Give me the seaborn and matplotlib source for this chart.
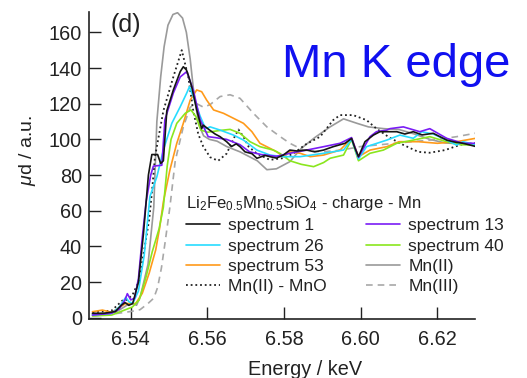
import numpy as np
import pandas as pd
import matplotlib
matplotlib.use("Agg")
import matplotlib.pyplot as plt
import seaborn as sns

# ---------------- data ----------------
e_s1 = [6.530, 6.533, 6.536, 6.5375, 6.5385, 6.5395, 6.5405, 6.542, 6.5433, 6.5446, 6.5455, 6.547,
        6.5478, 6.5485, 6.5494, 6.5511, 6.5529, 6.5537, 6.5545, 6.555, 6.5559, 6.5572, 6.5585, 6.5589,
        6.5607, 6.562, 6.5633, 6.565, 6.5663, 6.5675, 6.5685, 6.5698, 6.5716, 6.5729, 6.575, 6.5763,
        6.578, 6.5798, 6.5815, 6.5833, 6.5859, 6.588, 6.5903, 6.5928, 6.5959, 6.5976, 6.5985, 6.5994,
        6.6011, 6.6033, 6.605, 6.6068, 6.6094, 6.6115, 6.6137, 6.616, 6.6189, 6.6224, 6.6245, 6.6267, 6.630]
mu_s1 = [2.5, 2.5, 3.5, 7, 8.5, 7, 8, 20, 47, 80, 91.5, 91.5,
         86.5, 88, 116, 127.7, 138, 140.7, 139, 136, 129.5, 116.5, 106, 108,
         105, 103, 101.5, 98.7, 96, 97.5, 95.9, 93, 92, 89.4, 91, 90.3,
         89.5, 91.2, 94, 93.5, 94, 93, 94, 95.9, 97.8, 100.5, 95, 90.3,
         98.7, 102.4, 104.3, 104.3, 104.3, 103, 104.3, 102.5, 103.4, 99.6, 98.5, 97.8, 96]

e_s13 = [6.530, 6.535, 6.537, 6.5385, 6.5391, 6.540, 6.541, 6.542, 6.543, 6.544, 6.5452, 6.5459,
         6.5481, 6.5489, 6.5511, 6.5529, 6.5546, 6.5563, 6.5581, 6.5602, 6.562, 6.565, 6.5685, 6.571,
         6.574, 6.578, 6.5815, 6.5859, 6.5903, 6.5946, 6.5976, 6.5994, 6.6024, 6.6041, 6.6068, 6.6076,
         6.6111, 6.6154, 6.618, 6.6224, 6.6267, 6.630]
mu_s13 = [1.5, 2.5, 5, 10, 13.5, 10, 11, 22, 45, 65, 80, 85,
          85.5, 111, 126, 135, 138, 127.7, 111, 101.5, 101, 100, 97, 93,
          91.5, 90.5, 92.2, 94, 95.9, 97.8, 101, 90, 101.5, 104.3, 105.2, 106,
          107, 104.3, 106, 100.6, 97.8, 97.8]

e_s26 = [6.530, 6.535, 6.537, 6.5387, 6.5395, 6.5405, 6.542, 6.5435, 6.545, 6.5468, 6.5485, 6.5507,
         6.5529, 6.5546, 6.5553, 6.5563, 6.5581, 6.5595, 6.5607, 6.5633, 6.5668, 6.5694, 6.5729, 6.5763,
         6.5798, 6.5842, 6.5903, 6.5955, 6.5976, 6.5994, 6.6015, 6.6068, 6.6102, 6.6137, 6.6159, 6.6189,
         6.6224, 6.625, 6.6267, 6.630]
mu_s26 = [1.5, 2.5, 6, 11.5, 9, 8, 15, 35, 68, 79, 94, 109,
          118.3, 126, 129.5, 124, 113, 106, 107, 105.2, 102.4, 99.6, 94, 91.2,
          90.3, 90.3, 92.2, 94, 100, 89, 95.9, 99.6, 102.4, 100.6, 104.3, 103,
          99.6, 96.8, 98.7, 97]

e_s40 = [6.530, 6.535, 6.538, 6.5404, 6.5422, 6.544, 6.5456, 6.5474, 6.5485, 6.5495, 6.5505, 6.552,
         6.5542, 6.5557, 6.557, 6.5583, 6.560, 6.5633, 6.5659, 6.5685, 6.5711, 6.5737, 6.5772, 6.579,
         6.5815, 6.5845, 6.5877, 6.5903, 6.592, 6.5955, 6.5976, 6.5994, 6.6024, 6.6059, 6.6094, 6.6137,
         6.618, 6.6224, 6.626, 6.630]
mu_s40 = [1, 1.5, 4, 6, 10, 23, 37, 50, 62, 85, 100, 109,
          114.6, 116.5, 112.7, 105.2, 104, 105, 105.6, 103.4, 98.7, 95.9, 94, 92,
          88, 86, 84.7, 87, 89.4, 91.2, 100, 88, 92.2, 94, 97.8, 99.6,
          101.5, 98.7, 97, 96.8]

e_s53 = [6.530, 6.5326, 6.535, 6.5387, 6.5413, 6.543, 6.5448, 6.5465, 6.5475, 6.5485, 6.5502, 6.552,
         6.5537, 6.5555, 6.5572, 6.5585, 6.5598, 6.5616, 6.5642, 6.5668, 6.5694, 6.5716, 6.5737, 6.5763,
         6.5781, 6.5798, 6.5815, 6.5842, 6.5868, 6.5903, 6.5946, 6.5976, 6.5994, 6.6024, 6.6068, 6.610,
         6.615, 6.620, 6.625, 6.630]
mu_s53 = [3.4, 4.3, 3, 8, 8, 13.7, 25, 38, 50, 65, 82.8, 97.8,
          109, 122, 127.7, 126.7, 122, 116.5, 114.6, 111.8, 109, 104.3, 97.8, 95,
          93, 90.3, 93, 92.2, 90.3, 91.2, 94, 100.6, 90.3, 94, 95.9, 98.7,
          98.7, 97.8, 98.7, 100.6]

e_mn2 = [6.530, 6.536, 6.539, 6.5405, 6.5415, 6.5425, 6.5445, 6.546, 6.5468, 6.5478, 6.5487, 6.5497,
         6.551, 6.5522, 6.5535, 6.5545, 6.5555, 6.5565, 6.5578, 6.559, 6.5605, 6.5625, 6.565, 6.5685,
         6.573, 6.5755, 6.578, 6.5815, 6.5845, 6.588, 6.592, 6.5955, 6.599, 6.602, 6.606, 6.610, 6.614,
         6.618, 6.622, 6.626, 6.630]
mu_mn2 = [2, 3, 7, 8, 7, 12, 30, 62, 110, 135, 152, 164,
          170, 171, 168, 160, 145, 125, 108, 102, 100, 99, 96, 93,
          88, 83, 83.5, 87.5, 95, 101, 107, 111.5, 109, 107, 106, 105.5, 103,
          100, 98, 97.5, 97.5]

e_mno = [6.530, 6.535, 6.537, 6.538, 6.539, 6.5405, 6.5422, 6.5435, 6.5448, 6.5455, 6.5463, 6.5485,
         6.5511, 6.5533, 6.555, 6.5563, 6.5576, 6.5589, 6.5607, 6.5628, 6.565, 6.5672, 6.5681, 6.5694,
         6.5707, 6.5729, 6.5763, 6.5798, 6.5824, 6.5855, 6.5894, 6.5928, 6.5946, 6.598, 6.6015, 6.6041,
         6.6075, 6.611, 6.615, 6.618, 6.622, 6.626, 6.630]
mu_mno = [3, 4, 8, 10, 10, 13, 21, 38, 55, 70, 90, 116,
          135, 150, 135, 116, 103, 96, 90, 88, 92, 102, 105.5, 101.5,
          96, 92, 88.5, 89.5, 92, 97, 101.5, 110.8, 113.6, 113.6, 110.8, 106,
          101, 97, 93, 92.5, 94, 97, 98]

e_mn3 = [6.530, 6.535, 6.540, 6.5424, 6.5445, 6.546, 6.547, 6.548, 6.549, 6.5502, 6.5516, 6.5537,
         6.5555, 6.5572, 6.559, 6.5607, 6.5633, 6.5659, 6.5685, 6.572, 6.5755, 6.579, 6.5815, 6.585,
         6.590, 6.595, 6.600, 6.605, 6.610, 6.615, 6.620, 6.625, 6.630]
mu_mn3 = [1, 2, 3.5, 4.5, 8, 11, 17, 28, 43, 62, 88, 107,
          118, 120, 118, 119.5, 124, 125, 123, 114.6, 107, 101.5, 97.8, 94,
          93, 94, 96, 97, 98, 99, 100, 101.5, 103.5]

x_ticks = [6.54, 6.56, 6.58, 6.60, 6.62]
x_tick_labels = ["6.54", "6.56", "6.58", "6.60", "6.62"]
y_ticks = [0, 20, 40, 60, 80, 100, 120, 140, 160]

labels = ["spectrum 1", "spectrum 13", "spectrum 26", "spectrum 40", "spectrum 53",
          "Mn(II)", "Mn(II) - MnO", "Mn(III)"]

# ---------------- style ----------------
sns.set_theme(style="ticks")
plt.rcParams["font.family"] = ["Liberation Sans", "DejaVu Sans"]
plt.rcParams["mathtext.fontset"] = "custom"
plt.rcParams["mathtext.rm"] = "Liberation Sans"
plt.rcParams["mathtext.it"] = "Liberation Sans:italic"
plt.rcParams["mathtext.bf"] = "Liberation Sans:bold"

series = {
    "spectrum 1": (e_s1, mu_s1),
    "spectrum 13": (e_s13, mu_s13),
    "spectrum 26": (e_s26, mu_s26),
    "spectrum 40": (e_s40, mu_s40),
    "spectrum 53": (e_s53, mu_s53),
    "Mn(II)": (e_mn2, mu_mn2),
    "Mn(II) - MnO": (e_mno, mu_mno),
    "Mn(III)": (e_mn3, mu_mn3),
}
styles = {
    "Mn(II)": dict(color="#9a9a9a", lw=1.2, ls="-"),
    "Mn(III)": dict(color="#a8a8a8", lw=1.2, dashes=(4, 3)),
    "Mn(II) - MnO": dict(color="#222222", lw=1.3, dashes=(1, 1.6)),
    "spectrum 53": dict(color="#ff9a1a", lw=1.2, ls="-"),
    "spectrum 40": dict(color="#8ae61e", lw=1.2, ls="-"),
    "spectrum 26": dict(color="#28dcff", lw=1.2, ls="-"),
    "spectrum 13": dict(color="#7a1cf5", lw=1.2, ls="-"),
    "spectrum 1": dict(color="#151515", lw=1.2, ls="-"),
}
draw_order = ["Mn(II)", "Mn(III)", "Mn(II) - MnO", "spectrum 53", "spectrum 40",
              "spectrum 26", "spectrum 13", "spectrum 1"]

fig = plt.figure(figsize=(5.27, 3.78), dpi=100)
ax = fig.add_axes([89 / 527, 1 - 319 / 378, (475 - 89) / 527, (319 - 12) / 378])

for name in draw_order:
    e, mu = series[name]
    df = pd.DataFrame({"Energy": e, "mu": mu})
    sns.lineplot(data=df, x="Energy", y="mu", ax=ax, label=name, **styles[name])

ax.set_xlim(6.5291, 6.6298)
ax.set_ylim(-0.7, 171.4)
ax.set_xticks(x_ticks)
ax.set_xticklabels(x_tick_labels)
ax.set_yticks(y_ticks)
ax.tick_params(axis="both", direction="in", length=8.5, width=1.0, labelsize=14.3,
               color="#222222", labelcolor="#222222")
ax.tick_params(axis="x", pad=8)
ax.tick_params(axis="y", pad=5)
for side in ["top", "right"]:
    ax.spines[side].set_visible(False)
for side in ["left", "bottom"]:
    ax.spines[side].set_linewidth(1.2)
    ax.spines[side].set_color("#222222")
ax.grid(False)

ax.set_xlabel("Energy / keV", fontsize=14.3, color="#222222")
ax.xaxis.set_label_coords(0.5596, -0.135)
ax.set_ylabel(r"$\mathit{\mu}$d / a.u.", fontsize=14, color="#222222")
ax.yaxis.set_label_coords(-0.132, 0.55)

fig.text(111 / 527, 1 - 13 / 378, "(d)", fontsize=18, va="top", ha="left", color="#222222")
fig.text(282 / 527, 1 - 77 / 378, "Mn K edge", fontsize=34, va="baseline", ha="left", color="#1010f0")

handles, labs = ax.get_legend_handles_labels()
hmap = dict(zip(labs, handles))
leg_order = ["spectrum 1", "spectrum 26", "spectrum 53", "Mn(II) - MnO",
             "spectrum 13", "spectrum 40", "Mn(II)", "Mn(III)"]
leg = ax.legend([hmap[k] for k in leg_order], leg_order, ncol=2, frameon=False,
                loc="upper left", bbox_to_anchor=(186 / 527, 1 - 194 / 378),
                bbox_transform=fig.transFigure, fontsize=12.5,
                title=r"Li$_2$Fe$_{0.5}$Mn$_{0.5}$SiO$_4$ - charge - Mn", title_fontsize=12,
                alignment="left", handlelength=1.95, handletextpad=0.46, columnspacing=2.3,
                labelspacing=0.3, borderpad=0, borderaxespad=0)
for t in leg.get_texts():
    t.set_color("#222222")
leg.get_title().set_color("#222222")

fig.savefig("out.png", dpi=100)
